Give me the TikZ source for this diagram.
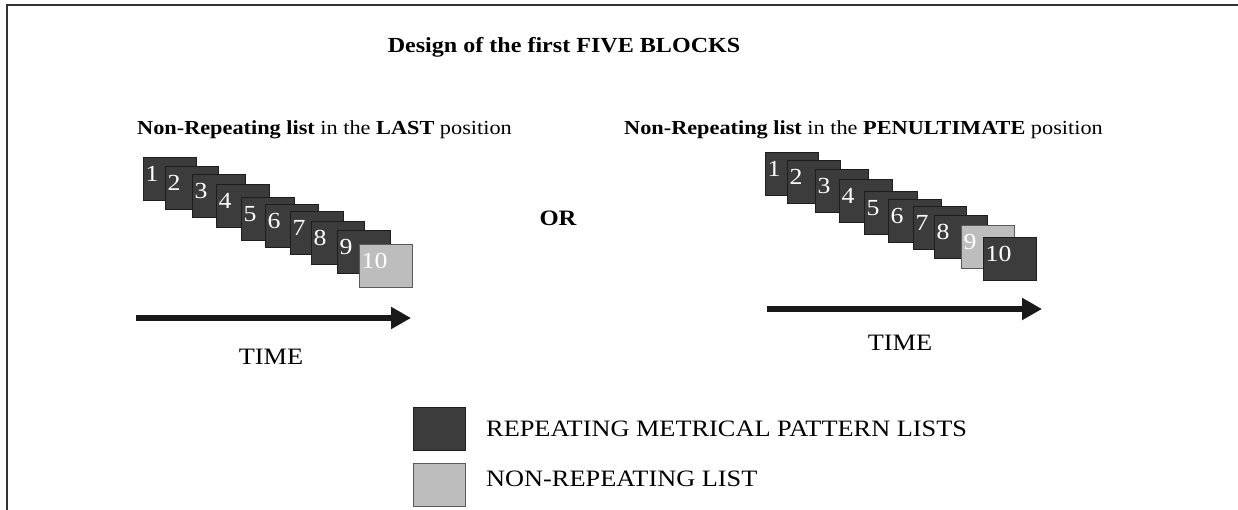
\documentclass[tikz,border=0pt]{standalone}
\usepackage{fontspec}
\setmainfont[FakeStretch=1.12]{Liberation Serif}
\usetikzlibrary{arrows.meta}
\definecolor{boxdark}{HTML}{3C3C3C}
\definecolor{boxlight}{HTML}{BDBDBD}
\definecolor{edgedark}{HTML}{1E1E1E}
\definecolor{edgelight}{HTML}{5A5A5A}
\definecolor{framecol}{HTML}{333333}
\newcommand\mycard[5]{%
  \node[#5] (#1) at (#2,#3) {};
  \node[cardnum] (#1n) at ([xshift=2.5pt,yshift=-25pt]#1.north west) {#4};
}
\begin{document}
\begin{tikzpicture}[x=1pt,y=-1pt,
  darkcard/.style={draw=edgedark, fill=boxdark, line width=1.4pt, minimum width=53pt, minimum height=43pt, inner sep=0pt, anchor=north west},
  lightcard/.style={draw=edgelight, fill=boxlight, line width=1.4pt, minimum width=53pt, minimum height=43pt, inner sep=0pt, anchor=north west},
  cardnum/.style={text=white, anchor=base west, inner sep=0pt, font=\fontsize{23}{23}\selectfont},
  txt/.style={inner sep=0pt, font=\fontsize{23.5}{28}\selectfont},
  subtxt/.style={inner sep=0pt, anchor=west, font=\fontsize{19.9}{24}\selectfont},
  timearrow/.style={line width=6.5pt, draw=black!90, -{Triangle[length=20pt,width=21pt]}},
]
\useasboundingbox (0,0) rectangle (1238,510);
% frame
\draw[framecol, line width=2pt] (7,512) -- (7,5) -- (1240,5);
% title
\node[inner sep=0pt, font=\bfseries\fontsize{21.5}{26}\selectfont] (title) at (564,47) {Design of the first FIVE BLOCKS};
% subtitles
\node[subtxt] (subL) at (137,130) {\textbf{Non-Repeating list} in the \textbf{LAST} position};
\node[subtxt] (subR) at (624,130) {\textbf{Non-Repeating list} in the \textbf{PENULTIMATE} position};
\node[inner sep=0pt, font=\bfseries\fontsize{22}{26}\selectfont] (or) at (558,218) {OR};
% left stack
\mycard{l1}{143}{157}{1}{darkcard}
\mycard{l2}{165}{166}{2}{darkcard}
\mycard{l3}{192}{174}{3}{darkcard}
\mycard{l4}{216}{184}{4}{darkcard}
\mycard{l5}{241}{197}{5}{darkcard}
\mycard{l6}{265}{204}{6}{darkcard}
\mycard{l7}{290}{211}{7}{darkcard}
\mycard{l8}{311}{221}{8}{darkcard}
\mycard{l9}{337}{230}{9}{darkcard}
\mycard{l10}{359}{244}{10}{lightcard}
% right stack
\mycard{r1}{765}{152}{1}{darkcard}
\mycard{r2}{787}{160}{2}{darkcard}
\mycard{r3}{815}{169}{3}{darkcard}
\mycard{r4}{839}{179}{4}{darkcard}
\mycard{r5}{864}{191}{5}{darkcard}
\mycard{r6}{888}{199}{6}{darkcard}
\mycard{r7}{913}{206}{7}{darkcard}
\mycard{r8}{934}{215}{8}{darkcard}
\mycard{r9}{961}{225}{9}{lightcard}
\mycard{r10}{983}{237}{10}{darkcard}
% arrows
\coordinate (aLs) at (136,318);
\coordinate (aLe) at (411,318);
\coordinate (aRs) at (767,309);
\coordinate (aRe) at (1042,309);
\draw[timearrow] (aLs) -- (aLe);
\draw[timearrow] (aRs) -- (aRe);
\node[txt] (timeL) at (271,357) {TIME};
\node[txt] (timeR) at (900,343) {TIME};
% legend
\node[darkcard, minimum width=52pt] (legD) at (413,407) {};
\node[lightcard, minimum width=52pt] (legL) at (413,463) {};
\node[txt, anchor=west] (legDt) at (486,429) {REPEATING METRICAL PATTERN LISTS};
\node[txt, anchor=west] (legLt) at (486,479) {NON-REPEATING LIST};
\end{tikzpicture}
\end{document}
